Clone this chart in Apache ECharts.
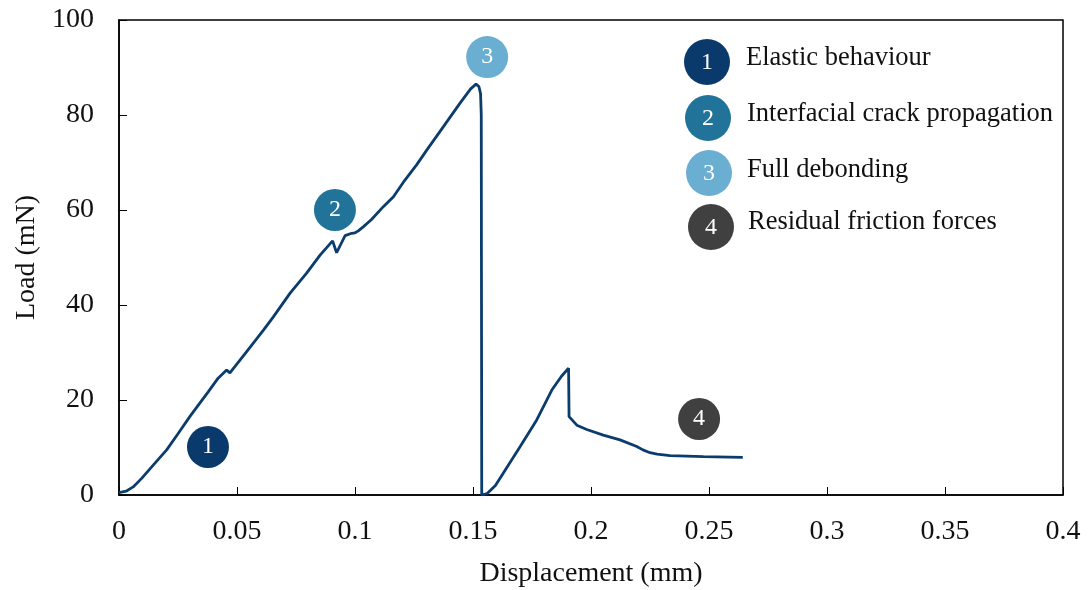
<!DOCTYPE html>
<html>
<head>
<meta charset="utf-8">
<script src="https://cdn.jsdelivr.net/npm/echarts@6/dist/echarts.min.js"></script>
<style>
html,body{margin:0;padding:0;background:#fff;}
#chart{width:1090px;height:590px;}
</style>
</head>
<body>
<div id="chart"></div>
<script>
// Displacement (mm)
var dispX = [0, 0.003, 0.006, 0.0096, 0.0145, 0.0202, 0.025, 0.030, 0.034, 0.0378, 0.042, 0.0456, 0.047,
  0.0541, 0.0612, 0.0654, 0.0725, 0.0795, 0.0852, 0.0905, 0.0912, 0.0922, 0.0958, 0.0986, 0.1, 0.1014,
  0.1036, 0.107, 0.112, 0.1163, 0.121, 0.1261, 0.1304, 0.1374, 0.1445, 0.149, 0.1513, 0.1525, 0.1532,
  0.1535, 0.1536, 0.1537, 0.156, 0.1595, 0.1628, 0.170, 0.177, 0.1834, 0.1875, 0.1905, 0.1907, 0.194,
  0.1982, 0.2052, 0.2123, 0.2194, 0.222, 0.225, 0.228, 0.2335, 0.2476, 0.2643];
// Load (mN)
var loadY = [0.5, 0.8, 1.7, 3.5, 6.3, 9.5, 12.9, 16.5, 19.2, 21.7, 24.6, 26.3, 25.7,
  30.2, 34.7, 37.5, 42.5, 46.7, 50.5, 53.5, 53.6, 51.0, 54.6, 55.1, 55.2, 55.6,
  56.5, 58.0, 60.7, 62.8, 66.2, 69.5, 72.6, 77.5, 82.5, 85.5, 86.5, 86.0, 84.5,
  80.0, 40.0, 0, 0.3, 2.0, 4.6, 10.2, 15.8, 22.1, 25.0, 26.7, 16.5, 14.7,
  13.8, 12.6, 11.6, 10.2, 9.5, 8.9, 8.6, 8.3, 8.1, 7.9];
// Stage badges (placed in data coordinates)
var badgeLabels = ['1', '2', '3', '4'];
var badgeX = [0.0377, 0.0915, 0.156, 0.2458];
var badgeY = [10.1, 60.0, 92.2, 16.0];
var badgeColors = ['#0a3a6b', '#22739a', '#6aaed1', '#404040'];
var legendTexts = ['Elastic behaviour', 'Interfacial crack propagation', 'Full debonding', 'Residual friction forces'];
var xTicks = {min: 0, max: 0.4, interval: 0.05};
var yTicks = {min: 0, max: 100, interval: 20};

var FONT = '"Liberation Serif", "Times New Roman", serif';
var lineData = dispX.map(function (x, i) { return [x, loadY[i]]; });
var badgeData = badgeX.map(function (x, i) {
  return {value: [x, badgeY[i]], itemStyle: {color: badgeColors[i], opacity: 1}, label: {formatter: badgeLabels[i]}};
});

var legendPos = [[707, 62], [708, 118], [709, 173], [711, 227]];
var textPos = [[746, 58], [747, 114], [747, 170], [748, 222]];
var graphics = [];
legendPos.forEach(function (p, i) {
  graphics.push({type: 'circle', shape: {cx: p[0], cy: p[1], r: 23}, style: {fill: badgeColors[i]}, z: 10});
  graphics.push({type: 'text', x: p[0], y: p[1] + 1, style: {text: badgeLabels[i], fill: '#fff', font: '24px ' + FONT, textAlign: 'center', textVerticalAlign: 'middle'}, z: 11});
  graphics.push({type: 'text', x: textPos[i][0], y: textPos[i][1], style: {text: legendTexts[i], fill: '#111', font: '26.5px ' + FONT, textAlign: 'left', textVerticalAlign: 'middle'}, z: 11});
});

var chart = echarts.init(document.getElementById('chart'), null, {renderer: 'canvas'});
chart.setOption({
  animation: false,
  backgroundColor: '#fff',
  grid: {left: 119, top: 20, right: 27, bottom: 95, containLabel: false, outerBoundsMode: 'none',
    show: true, borderColor: '#000', borderWidth: 1.5, backgroundColor: 'transparent'},
  xAxis: {
    type: 'value', min: xTicks.min, max: xTicks.max, interval: xTicks.interval,
    name: 'Displacement (mm)', nameLocation: 'middle', nameGap: 65,
    nameTextStyle: {fontFamily: FONT, fontSize: 28, color: '#111'},
    axisLine: {show: true, lineStyle: {color: '#000', width: 1.5}},
    axisTick: {show: true, inside: true, length: 8, lineStyle: {color: '#000', width: 1}},
    axisLabel: {fontFamily: FONT, fontSize: 28, color: '#111', margin: 23},
    splitLine: {show: false}
  },
  yAxis: {
    type: 'value', min: yTicks.min, max: yTicks.max, interval: yTicks.interval,
    name: 'Load (mN)', nameLocation: 'middle', nameGap: 75,
    nameTextStyle: {fontFamily: FONT, fontSize: 28, color: '#111'},
    axisLine: {show: true, lineStyle: {color: '#000', width: 1.5}},
    axisTick: {show: true, inside: true, length: 8, lineStyle: {color: '#000', width: 1}},
    axisLabel: {fontFamily: FONT, fontSize: 28, color: '#111', margin: 25},
    splitLine: {show: false}
  },
  series: [
    {
      type: 'line', data: lineData, showSymbol: false, symbol: 'none', smooth: false,
      lineStyle: {color: '#0a3d6e', width: 2.8}, z: 3
    },
    {
      type: 'scatter', data: badgeData, symbolSize: 42, z: 5,
      label: {show: true, position: 'inside', color: '#fff', fontFamily: FONT, fontSize: 24}
    }
  ],
  graphic: graphics
});
</script>
</body>
</html>
